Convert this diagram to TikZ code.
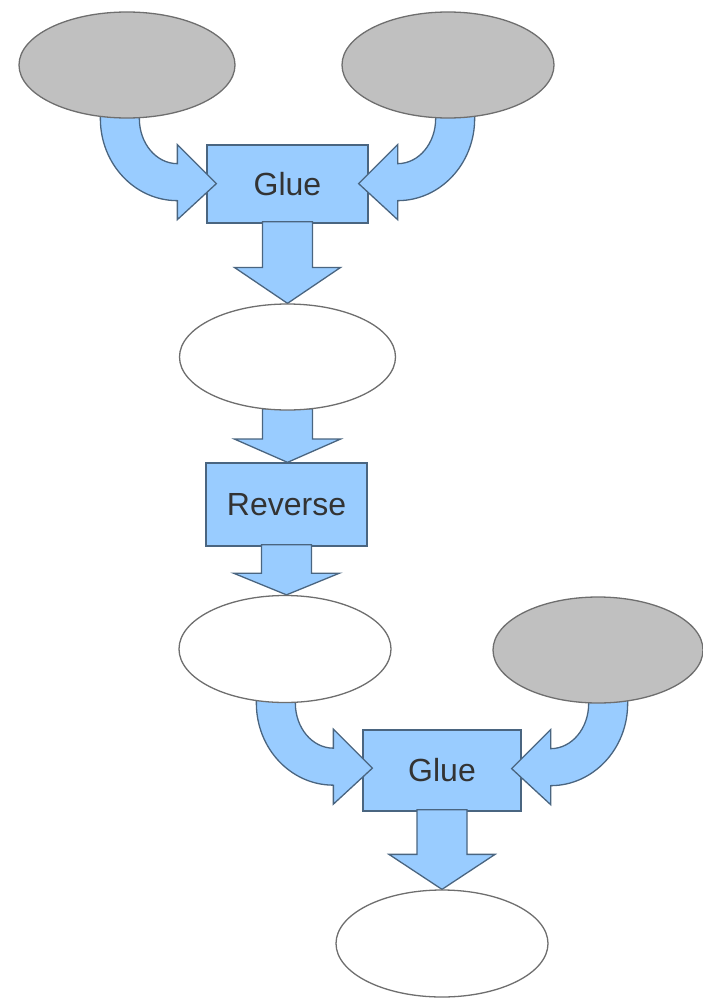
\documentclass[tikz,border=0pt]{standalone}
\usepackage{fontspec}
\setmainfont{Liberation Sans}
\usetikzlibrary{shapes.geometric,calc}
\pgfdeclarelayer{back}
\pgfdeclarelayer{mid}
\pgfsetlayers{back,mid,main}
\definecolor{bluefill}{HTML}{99CCFF}
\definecolor{blueline}{HTML}{4A6580}
\definecolor{grayfill}{HTML}{C0C0C0}
\definecolor{ellline}{HTML}{6E6E6E}
\definecolor{txt}{HTML}{333333}
\tikzset{
  inputell/.style={ellipse, draw=ellline, fill=grayfill, line width=1.3pt, inner sep=0pt},
  resultell/.style={ellipse, draw=ellline, fill=white, line width=1.3pt, inner sep=0pt},
  opbox/.style={rectangle, draw=blueline, fill=bluefill, line width=1.3pt, inner sep=0pt,
    text=txt, font=\fontsize{32}{38}\selectfont},
  barrow/.style={draw=blueline, fill=bluefill, line width=1.3pt, line join=miter}
}
\newcommand{\bendleft}[3]{% #1 ellipse, #2 box, #3 coordinate name
  \coordinate (#3) at ($(#2.west |- #1.south)+(-29,0)$);
  \begin{scope}[shift={(#3)}]
    \path[barrow] (-77,10) -- (-77,0) arc[start angle=180,end angle=270,x radius=77,y radius=82]
      -- (0,-101) -- (39,-65) -- (0,-26) -- (0,-45)
      arc[start angle=270,end angle=180,x radius=38,y radius=45] -- (-38,10) -- cycle;
  \end{scope}}
\newcommand{\bendright}[3]{%
  \coordinate (#3) at ($(#2.east |- #1.south)+(29,0)$);
  \begin{scope}[shift={(#3)},xscale=-1]
    \path[barrow] (-77,10) -- (-77,0) arc[start angle=180,end angle=270,x radius=77,y radius=82]
      -- (0,-101) -- (39,-65) -- (0,-26) -- (0,-45)
      arc[start angle=270,end angle=180,x radius=38,y radius=45] -- (-38,10) -- cycle;
  \end{scope}}
\newcommand{\straightdown}[2]{% #1 from node, #2 to node
  \path[barrow] let \p1=(#1.south), \p2=(#2.north), \n1={0.45*(\y1-\y2)} in
    ({\x1-25pt},{\y1+2pt}) -- ({\x1+25pt},{\y1+2pt}) -- ({\x1+25pt},{\y2+\n1*1pt})
    -- ({\x1+53pt},{\y2+\n1*1pt}) -- (\x1,\y2) -- ({\x1-53pt},{\y2+\n1*1pt})
    -- ({\x1-25pt},{\y2+\n1*1pt}) -- cycle;}
\begin{document}
\begin{tikzpicture}[x=1pt,y=1pt]
\useasboundingbox (0,0) rectangle (703,-998);
% ellipses (top layer)
\node[inputell, minimum width=216, minimum height=106] (inA) at (127,-65) {};
\node[inputell, minimum width=212, minimum height=106] (inB) at (448,-65) {};
\node[resultell, minimum width=216, minimum height=106] (res1) at (287.5,-357) {};
\node[resultell, minimum width=212, minimum height=107] (res2) at (285,-649) {};
\node[inputell, minimum width=210, minimum height=106] (inC) at (598,-650) {};
\node[resultell, minimum width=212, minimum height=107] (res3) at (442,-943.5) {};
% boxes (bottom layer)
\begin{pgfonlayer}{back}
\node[opbox, minimum width=161, minimum height=78] (glue1) at (287.5,-184) {Glue};
\node[opbox, minimum width=161, minimum height=83] (rev) at (286.5,-504.5) {Reverse};
\node[opbox, minimum width=158, minimum height=81] (glue2) at (442,-770.5) {Glue};
\end{pgfonlayer}
% block arrows (middle layer)
\begin{pgfonlayer}{mid}
\bendleft{inA}{glue1}{cA}
\bendright{inB}{glue1}{cB}
\straightdown{glue1}{res1}
\straightdown{res1}{rev}
\straightdown{rev}{res2}
\bendleft{res2}{glue2}{cC}
\bendright{inC}{glue2}{cD}
\straightdown{glue2}{res3}
\end{pgfonlayer}
\end{tikzpicture}
\end{document}
